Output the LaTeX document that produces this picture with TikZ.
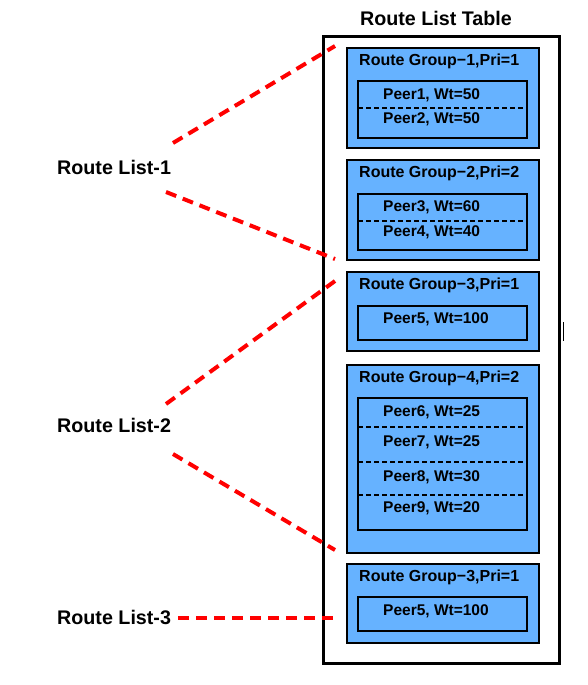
\documentclass[tikz,border=0pt]{standalone}
\usepackage{fontspec}
\setmainfont{Liberation Sans}
\usetikzlibrary{positioning}
\definecolor{groupebleu}{HTML}{66B2FF}
\definecolor{lienrouge}{HTML}{FF0000}

\begin{document}
\begin{tikzpicture}[x=1pt, y=-1pt,
  every node/.style={font=\bfseries\fontsize{15.5}{18}\selectfont, inner sep=0pt},
  grande/.style={font=\bfseries\fontsize{19.7}{22}\selectfont},
  entete/.style={font=\bfseries\fontsize{16}{18}\selectfont},
  boite/.style={draw=black, line width=2pt, fill=groupebleu, anchor=north west},
  lien/.style={lienrouge, line width=4pt, dash pattern=on 11pt off 7pt},
  separe/.style={black, line width=1.8pt, dash pattern=on 5pt off 3pt}]

  \useasboundingbox (0,0) rectangle (588,685);

  % Table
  \node[draw=black, line width=3pt, anchor=north west, minimum width=236pt, minimum height=627pt] (table) at (322,35) {};
  \node[grande] (titre) at (436,18) {Route List Table};

  % Groupes
  \foreach \i/\yh/\yb/\yi/\yj/\txt in {
      1/47/147/80/137/{Route Group−1,Pri=1},
      2/159/259/193/249/{Route Group−2,Pri=2},
      3/271/350/305/339/{Route Group−3,Pri=1},
      4/364/552/397/529/{Route Group−4,Pri=2},
      5/563/642/596/630/{Route Group−3,Pri=1}} {
    \node[boite, minimum width=192pt, minimum height={\yb-\yh}] (grp\i) at (346,\yh) {};
    \node[entete, anchor=west] (titre\i) at (359,\yh+14.5) {\txt};
    \node[boite, minimum width=169pt, minimum height={\yj-\yi}] (liste\i) at (357,\yi) {};
  }

  % Separateurs
  \foreach \y in {108, 221, 427, 462, 495} {
    \draw[separe] (358,\y) -- (525,\y);
  }

  % Pairs
  \foreach \i/\y/\txt in {
      1/95/{Peer1, Wt=50}, 2/119/{Peer2, Wt=50},
      3/207/{Peer3, Wt=60}, 4/232/{Peer4, Wt=40},
      5/319/{Peer5, Wt=100},
      6/412/{Peer6, Wt=25}, 7/442/{Peer7, Wt=25},
      8/477/{Peer8, Wt=30}, 9/508/{Peer9, Wt=20},
      10/611/{Peer5, Wt=100}} {
    \node[anchor=west] (pair\i) at (383,\y) {\txt};
  }

  % Listes
  \node[grande, anchor=west] (rl1) at (57,167) {Route List-1};
  \node[grande, anchor=west] (rl2) at (57,425) {Route List-2};
  \node[grande, anchor=west] (rl3) at (57,617) {Route List-3};

  \coordinate (rl1h) at (173,143);
  \coordinate (rl1b) at (166,192);
  \coordinate (rl2h) at (166,404);
  \coordinate (rl2b) at (173,454);
  \coordinate (rl3d) at (178,618);
  \coordinate (g1h) at (335,46);
  \coordinate (g3h) at (335,259);
  \coordinate (g3b) at (335,281);
  \coordinate (g4b) at (335,550);
  \coordinate (g5m) at (335,618);

  \draw[lien] (rl1h) -- (g1h);
  \draw[lien] (rl1b) -- (g3h);
  \draw[lien] (rl2h) -- (g3b);
  \draw[lien] (rl2b) -- (g4b);
  \draw[lien] (rl3d) -- (g5m);

  % Trait
  \draw[black, line width=1pt] (563,322) -- (563,341);

\end{tikzpicture}
\end{document}
